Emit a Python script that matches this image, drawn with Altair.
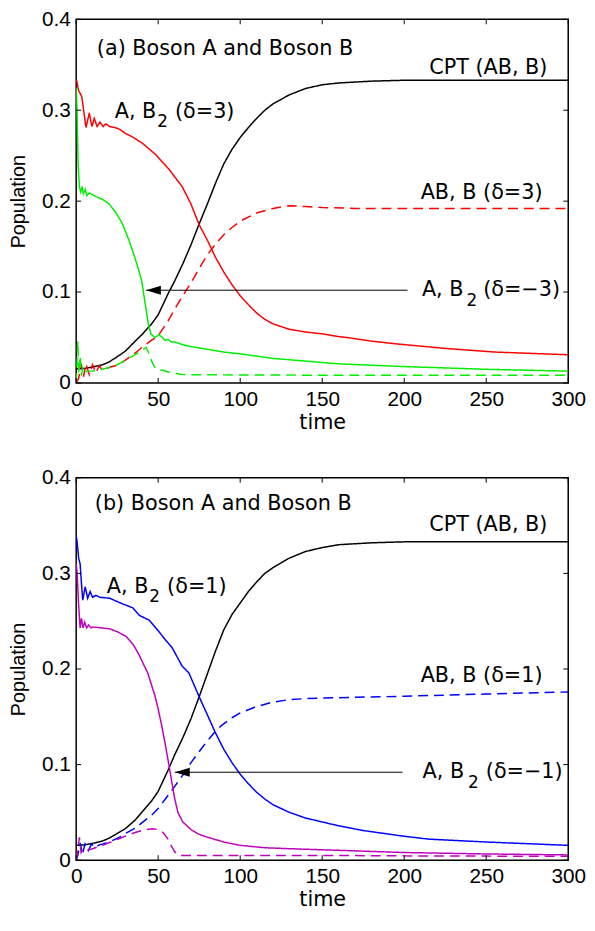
import altair as alt
import pandas as pd

# ---------------- data: panel (a) ----------------
a_cpt_t = [0, 5, 10, 16, 20, 26, 30, 36, 40, 46, 50, 56, 60, 65, 70, 75, 80, 85, 90, 95, 100,
           105, 110, 115, 120, 130, 140, 150, 160, 180, 200, 250, 300]
a_cpt_v = [0.0155, 0.016, 0.0175, 0.020, 0.023, 0.030, 0.035, 0.046, 0.053, 0.065, 0.075, 0.098,
           0.112, 0.131, 0.152, 0.175, 0.197, 0.220, 0.241, 0.257, 0.270, 0.281, 0.291, 0.300,
           0.307, 0.317, 0.324, 0.328, 0.330, 0.332, 0.333, 0.333, 0.333]

a_red_t = [0, 0.4, 1.4, 3.4, 6, 8, 9.6, 11, 12.8, 14.5, 16.5, 18, 20.5, 23.5, 26.5, 30.5, 34.5,
           40.5, 48.6, 56.6, 64.6, 69.7, 75, 80, 85, 90, 95, 100, 105, 110, 115, 120, 130, 140,
           150, 160, 165, 180, 195, 225, 255, 300]
a_red_v = [0.333, 0.332, 0.322, 0.315, 0.281, 0.297, 0.282, 0.291, 0.282, 0.287, 0.282, 0.285,
           0.282, 0.281, 0.279, 0.274, 0.2705, 0.2635, 0.251, 0.235, 0.216, 0.198, 0.174, 0.157,
           0.138, 0.122, 0.108, 0.096, 0.086, 0.077, 0.070, 0.065, 0.059, 0.056, 0.054, 0.051,
           0.050, 0.046, 0.043, 0.038, 0.034, 0.031]

a_redd_t = [0, 1.5, 3, 4.5, 6, 8, 10, 12, 14, 16, 20, 26, 30, 36, 40, 46, 50, 56, 60, 65, 70, 75,
            80, 85, 90, 95, 100, 110, 120, 130, 140, 150, 170, 200, 250, 300]
a_redd_v = [0.0, 0.005, 0.021, 0.007, 0.021, 0.009, 0.020, 0.011, 0.019, 0.014, 0.017, 0.020,
            0.025, 0.033, 0.039, 0.047, 0.052, 0.068, 0.081, 0.096, 0.110, 0.126, 0.141, 0.153,
            0.163, 0.171, 0.178, 0.187, 0.192, 0.195, 0.194, 0.193, 0.192, 0.192, 0.192, 0.192]

a_grn_t = [0, 0.5, 1.2, 2, 2.8, 3.6, 4.4, 5.5, 6.5, 8, 10, 12, 16, 20, 24, 28, 32, 35, 38, 40, 42,
           44, 45.5, 48, 50.5, 52, 54, 56, 58, 60, 62, 65, 70, 80, 90, 100, 120, 140, 160, 200,
           250, 300]
a_grn_v = [0.325, 0.30, 0.24, 0.215, 0.210, 0.216, 0.208, 0.213, 0.206, 0.209, 0.207, 0.205,
           0.202, 0.197, 0.188, 0.176, 0.158, 0.142, 0.125, 0.112, 0.088, 0.065, 0.054, 0.050,
           0.053, 0.051, 0.047, 0.048, 0.045, 0.045, 0.044, 0.042, 0.040, 0.037, 0.034, 0.032,
           0.027, 0.024, 0.021, 0.018, 0.015, 0.013]

a_grnd_t = [0, 1.0, 1.6, 2.4, 3.2, 4, 5, 6.5, 10, 16, 20, 25, 30, 35, 40, 42.6, 44, 46, 48, 50,
            53, 56, 60, 63, 70, 100, 150, 200, 300]
a_grnd_v = [0.0, 0.046, 0.010, 0.030, 0.008, 0.016, 0.011, 0.013, 0.013, 0.015, 0.017, 0.020,
            0.025, 0.030, 0.036, 0.039, 0.034, 0.024, 0.017, 0.014, 0.014, 0.012, 0.011, 0.0095,
            0.009, 0.0088, 0.0085, 0.0085, 0.0085]

# ---------------- data: panel (b) ----------------
b_cpt_t = [0, 5, 10, 16, 20, 26, 30, 36, 40, 46, 50, 56, 60, 65, 70, 75, 80, 85, 90, 95, 100,
           105, 110, 115, 120, 130, 140, 150, 160, 180, 200, 250, 300]
b_cpt_v = [0.0155, 0.016, 0.0175, 0.020, 0.023, 0.029, 0.033, 0.042, 0.050, 0.062, 0.072, 0.094,
           0.110, 0.128, 0.148, 0.171, 0.195, 0.219, 0.241, 0.257, 0.269, 0.281, 0.291, 0.300,
           0.306, 0.316, 0.323, 0.327, 0.330, 0.332, 0.333, 0.333, 0.333]

b_blu_t = [0, 0.5, 1.5, 2.4, 3.2, 4, 5.5, 7, 8.5, 10, 12, 14.5, 20.5, 27, 34.5, 38.6, 44.6, 50,
           54.6, 58.6, 64.6, 68.7, 74.7, 80, 84.7, 90, 95, 100, 105, 110, 115, 120, 130, 140,
           150, 160, 175, 200, 215, 250, 300]
b_blu_v = [0.339, 0.334, 0.316, 0.310, 0.290, 0.272, 0.286, 0.274, 0.281, 0.275, 0.277, 0.275,
           0.274, 0.269, 0.264, 0.256, 0.251, 0.240, 0.230, 0.222, 0.203, 0.196, 0.172, 0.152,
           0.134, 0.116, 0.102, 0.090, 0.080, 0.071, 0.064, 0.058, 0.050, 0.044, 0.040, 0.036,
           0.031, 0.025, 0.022, 0.019, 0.0155]

b_blud_t = [0, 1, 2.4, 3.8, 5.4, 7.4, 9.4, 11.5, 14, 16.5, 20, 26.5, 30, 36.5, 40, 46.6, 50,
            56.6, 60, 66.7, 70, 78.7, 85, 88.7, 95, 100, 108.8, 118.9, 130, 140, 160, 200, 250,
            300]
b_blud_v = [0, 0.005, 0.018, 0.006, 0.017, 0.010, 0.017, 0.013, 0.016, 0.017, 0.019, 0.024,
            0.028, 0.034, 0.039, 0.048, 0.054, 0.069, 0.077, 0.093, 0.102, 0.122, 0.135, 0.141,
            0.149, 0.154, 0.160, 0.165, 0.168, 0.169, 0.170, 0.1715, 0.1738, 0.176]

b_mag_t = [0, 0.6, 1.4, 2.4, 3.2, 4.2, 5.2, 6.4, 7.6, 9, 10.4, 15, 20.5, 25, 30.5, 35, 38.6, 41,
           43.6, 46, 48, 50, 52, 54, 56, 58, 60, 62, 65, 70, 75, 80, 90, 100, 115, 130, 160, 200,
           250, 300]
b_mag_v = [0.31, 0.30, 0.27, 0.243, 0.253, 0.243, 0.249, 0.243, 0.246, 0.243, 0.244, 0.243,
           0.242, 0.239, 0.234, 0.225, 0.214, 0.205, 0.196, 0.183, 0.172, 0.158, 0.142, 0.124,
           0.105, 0.085, 0.065, 0.050, 0.040, 0.032, 0.027, 0.024, 0.019, 0.0155, 0.013, 0.012,
           0.0103, 0.008, 0.0065, 0.0055]

b_magd_t = [0, 1, 2, 3, 4.5, 6.4, 10, 16, 26, 36, 42, 46.6, 50, 53, 56, 58, 60, 61.5, 64, 68,
            80, 100, 150, 200, 300]
b_magd_v = [0, 0.012, 0.024, 0.008, 0.012, 0.010, 0.012, 0.0155, 0.0224, 0.029, 0.032, 0.0328,
            0.032, 0.029, 0.022, 0.015, 0.009, 0.006, 0.005, 0.0048, 0.0048, 0.005, 0.005,
            0.0045, 0.004]

x_ticks = [0, 50, 100, 150, 200, 250, 300]
y_ticks = [0, 0.1, 0.2, 0.3, 0.4]

# annotation texts
a_title = "(a) Boson A and Boson B"
b_title = "(b) Boson A and Boson B"
cpt_label = "CPT (AB, B)"
a_ab_label = "AB, B (\u03b4=3)"
b_ab_label = "AB, B (\u03b4=1)"
ab2_main = "A, B"
ab2_sub = "2"
a_top_par = "(\u03b4=3)"
a_low_par = "(\u03b4=\u22123)"
b_top_par = "(\u03b4=1)"
b_low_par = "(\u03b4=\u22121)"

# ---------------- style / layout ----------------
W, H_A, H_B = 498, 368, 387
ANN_FONT = "DejaVu Sans"
AX_FONT = "Liberation Sans"
FS = 21
SUB_FS = 17
TICK = 5
ARROW_SHAPE = "M0,0 L2,-0.62 L2,0.62 Z"


def long_df(series):
    rows = []
    for name, ts, vs in series:
        for t, v in zip(ts, vs):
            rows.append({"series": name, "t": t, "v": v})
    return pd.DataFrame(rows)


def panel(series, colors, dashes, texts, arrow, height):
    xs = alt.Scale(domain=[0, 300], nice=False, zero=False)
    ys = alt.Scale(domain=[0, 0.4], nice=False)
    xaxis = alt.Axis(values=x_ticks, title="time", labelPadding=6, titlePadding=2,
                     labelFlush=False, titleFont=ANN_FONT)
    yaxis = alt.Axis(values=y_ticks, format="~f", title="Population", labelPadding=6,
                     titlePadding=13, labelFlush=False, titleFontSize=20)

    def X():
        return alt.X("t:Q", scale=xs, axis=xaxis)

    def Y():
        return alt.Y("v:Q", scale=ys, axis=yaxis)

    names = [s[0] for s in series]
    lines = alt.Chart(long_df(series)).mark_line(strokeWidth=1.5, clip=True).encode(
        x=X(), y=Y(),
        color=alt.Color("series:N", scale=alt.Scale(domain=names, range=colors), legend=None),
        strokeDash=alt.StrokeDash("series:N", scale=alt.Scale(domain=names, range=dashes),
                                  legend=None),
        detail="series:N",
    )

    xt = pd.DataFrame({"t": x_ticks})
    yt = pd.DataFrame({"v": y_ticks})
    rule_kw = dict(color="black", strokeWidth=1)
    tb = alt.Chart(xt).mark_rule(**rule_kw).encode(x=X(), y=alt.value(height),
                                                   y2=alt.value(height - TICK))
    tt = alt.Chart(xt).mark_rule(**rule_kw).encode(x=X(), y=alt.value(0), y2=alt.value(TICK))
    tl = alt.Chart(yt).mark_rule(**rule_kw).encode(y=Y(), x=alt.value(0), x2=alt.value(TICK))
    tr = alt.Chart(yt).mark_rule(**rule_kw).encode(y=Y(), x=alt.value(W), x2=alt.value(W - TICK))

    tip, end, av = arrow
    adf = pd.DataFrame({"t": [tip], "t2": [end], "v": [av]})
    arule = alt.Chart(adf).mark_rule(color="black", strokeWidth=1).encode(x=X(), x2="t2:Q",
                                                                          y=Y())
    ahead = alt.Chart(adf).mark_point(shape=ARROW_SHAPE, size=225, filled=True, color="black",
                                      opacity=1, strokeWidth=0).encode(x=X(), y=Y())

    layers = [lines, tb, tt, tl, tr, arule, ahead]
    for (txt, t, v, dx, dy, fs, align) in texts:
        tdf = pd.DataFrame({"t": [t], "v": [v], "label": [txt]})
        layers.append(
            alt.Chart(tdf).mark_text(align=align, baseline="alphabetic", dx=dx, dy=dy,
                                     fontSize=fs, font=ANN_FONT, color="black").encode(
                x=X(), y=Y(), text="label:N")
        )
    return alt.layer(*layers).properties(width=W, height=height)


DASH = [10, 6]
SOLID = [1, 0]

series_a = [
    ("CPT", a_cpt_t, a_cpt_v),
    ("A_d3", a_red_t, a_red_v),
    ("AB_d3", a_redd_t, a_redd_v),
    ("A_dm3", a_grn_t, a_grn_v),
    ("AB_dm3", a_grnd_t, a_grnd_v),
]
colors_a = ["#000000", "#ff0000", "#ff0000", "#00ee00", "#00ee00"]
dashes_a = [SOLID, SOLID, DASH, SOLID, DASH]

texts_a = [
    (a_title, 12.6, 0.361, 0, 0, FS, "left"),
    (ab2_main, 23.5, 0.292, 0, 0, FS, "left"),
    (ab2_sub, 23.5, 0.292, 43, 10, SUB_FS, "left"),
    (a_top_par, 23.5, 0.292, 61, 0, FS, "left"),
    (cpt_label, 287.3, 0.3397, 0, 0, FS, "right"),
    (a_ab_label, 284.3, 0.202, 0, 0, FS, "right"),
    (ab2_main, 210.8, 0.096, 0, 0, FS, "left"),
    (ab2_sub, 210.8, 0.096, 45, 10, SUB_FS, "left"),
    (a_low_par, 210.8, 0.096, 62, 0, FS, "left"),
]

series_b = [
    ("CPT", b_cpt_t, b_cpt_v),
    ("A_d1", b_blu_t, b_blu_v),
    ("AB_d1", b_blud_t, b_blud_v),
    ("A_dm1", b_mag_t, b_mag_v),
    ("AB_dm1", b_magd_t, b_magd_v),
]
colors_b = ["#000000", "#0000ff", "#0000ff", "#bf00bf", "#bf00bf"]
dashes_b = [SOLID, SOLID, DASH, SOLID, DASH]

texts_b = [
    (b_title, 11.4, 0.366, 0, 0, FS, "left"),
    (ab2_main, 18.7, 0.280, 0, 0, FS, "left"),
    (ab2_sub, 18.7, 0.280, 43, 10, SUB_FS, "left"),
    (b_top_par, 18.7, 0.280, 61, 0, FS, "left"),
    (cpt_label, 287.3, 0.3444, 0, 0, FS, "right"),
    (b_ab_label, 284.3, 0.186, 0, 0, FS, "right"),
    (ab2_main, 211.2, 0.0861, 0, 0, FS, "left"),
    (ab2_sub, 211.2, 0.0861, 46, 10, SUB_FS, "left"),
    (b_low_par, 211.2, 0.0861, 64, 0, FS, "left"),
]

pa = panel(series_a, colors_a, dashes_a, texts_a, (42.6, 202, 0.102), H_A)
pb = panel(series_b, colors_b, dashes_b, texts_b, (60.2, 199, 0.092), H_B)

chart = alt.vconcat(pa, pb, spacing=33).resolve_scale(
    color="independent", strokeDash="independent"
).properties(
    padding={"left": 0, "top": -6, "right": 0, "bottom": -2}
).configure_view(stroke="black", strokeWidth=1.5).configure_axis(
    labelFont=AX_FONT, labelFontSize=FS, titleFont=AX_FONT, titleFontSize=FS,
    titleFontWeight="normal", labelColor="black", titleColor="black",
    ticks=False, domain=False, grid=False,
)

chart.save("out.html", embed_options={"renderer": "svg", "actions": False})
